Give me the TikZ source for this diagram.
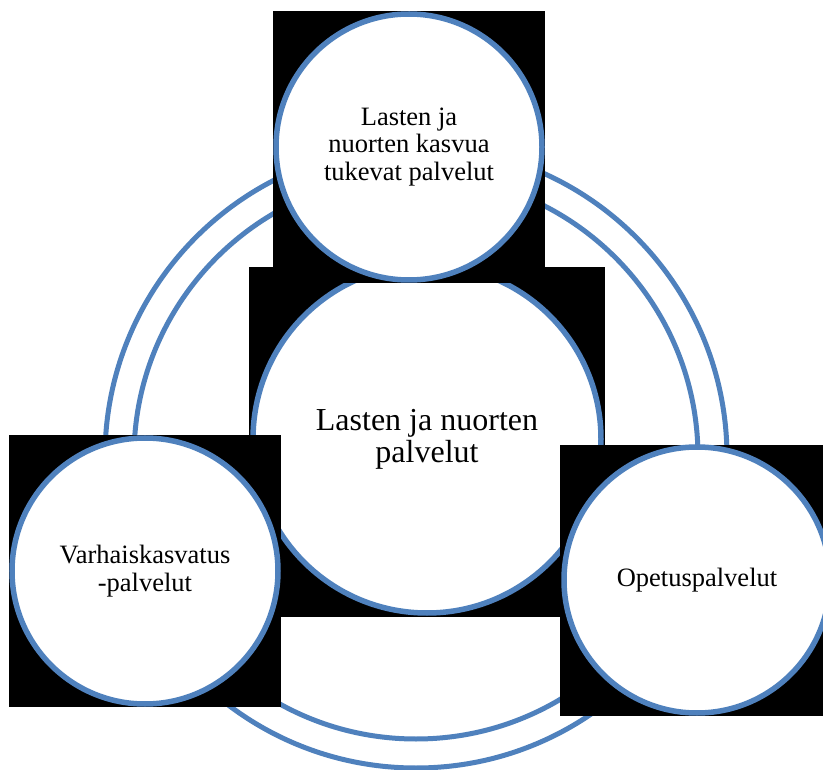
\documentclass[tikz,border=0pt]{standalone}
\usepackage{fontspec}
\setmainfont{Liberation Serif}
\definecolor{ringblue}{HTML}{4F81BD}
\tikzset{every node/.style={circle,draw=ringblue,line width=5.5pt,fill=white,align=center,inner sep=0pt}}
\tikzset{small/.style={minimum size=266pt,font=\fontsize{26.5}{27.5}\selectfont}}
\tikzset{big/.style={minimum size=348pt,font=\fontsize{32}{32}\selectfont}}
\tikzset{ring/.style={draw=ringblue,line width=5pt}}

\begin{document}
\begin{tikzpicture}[x=1pt,y=-1pt]
      \fill[white] (0,0) rectangle (823,770);
      \useasboundingbox (0,0) rectangle (823,770);
      \coordinate (mid) at (416,457);
      \draw[ring] (mid) circle (282);
      \draw[ring] (mid) circle (311);
      \fill (249,267) rectangle (605,617);
      \node[big] (palvelut) at (427,439) {Lasten ja nuorten\\palvelut};
      \fill (273,11) rectangle (545,283);
      \node[small] (kasvu) at (409,147) {Lasten ja\\nuorten kasvua\\tukevat palvelut};
      \fill (9,435) rectangle (281,707);
      \node[small] (varhais) at (145,571) {Varhaiskasvatus\\-palvelut};
      \fill (560,445) rectangle (834,716);
      \node[small] (opetus) at (697,580) {Opetuspalvelut};
    \end{tikzpicture}
\end{document}
